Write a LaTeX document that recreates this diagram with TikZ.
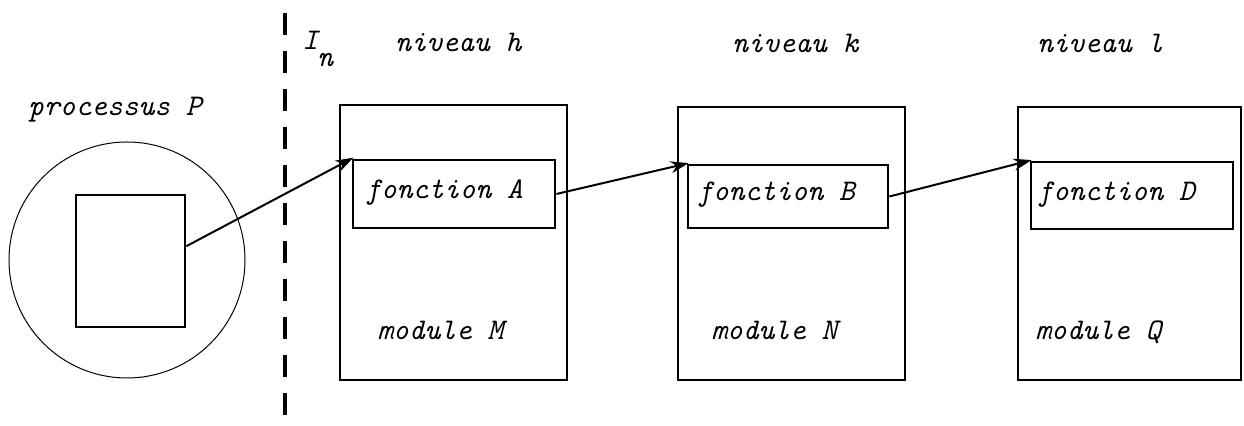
\documentclass[tikz,border=0pt]{standalone}
\usepackage{fontspec}
\usetikzlibrary{fit,arrows.meta,calc}
\tikzset{
  box/.style={draw, line width=1.4pt, inner sep=0pt},
  lbl/.style={inner sep=0pt, anchor=base west, font=\fontsize{15}{18}\selectfont\ttfamily\itshape},
  conn/.style={line width=1pt, -{Stealth[length=9pt,width=6pt]}, shorten >=-1pt}
}
\begin{document}
\begin{tikzpicture}[x=0.5pt,y=-0.5pt]
\useasboundingbox (0,0) rectangle (1244,426);
% process
\node[draw, circle, line width=0.5pt, minimum size=118pt, inner sep=0pt] (circ) at (127,260) {};
\node[box, fit={(76,195) (185,327)}] (P) {};
\node[lbl] (lp) at (28,116) {processus P};
% dashed interface
\coordinate (dtop) at (285,13);
\coordinate (dbot) at (285,423);
\draw[line width=2pt, dash pattern=on 11pt off 8pt] (dtop) -- (dbot);
\node[lbl] (lI) at (302,50) {I};
\node[lbl] (ln) at (317,67) {n};
% modules
\node[box, fit={(340,105) (567,380)}] (M) {};
\node[box, fit={(353,160) (555,228)}] (fA) {};
\node[box, fit={(678,107) (905,380)}] (N) {};
\node[box, fit={(688,165) (888,228)}] (fB) {};
\node[box, fit={(1018,107) (1241,380)}] (Q) {};
\node[box, fit={(1031,162) (1233,229)}] (fD) {};
% labels
\node[lbl] (nh) at (395,52) {niveau h};
\node[lbl] (nk) at (732,53) {niveau k};
\node[lbl] (nl) at (1037,53) {niveau l};
\node[lbl] (tA) at (365,199) {fonction A};
\node[lbl] (tB) at (697,201) {fonction B};
\node[lbl] (tD) at (1037,201) {fonction D};
\node[lbl] (mM) at (377,340) {module M};
\node[lbl] (mN) at (711,340) {module N};
\node[lbl] (mQ) at (1035,340) {module Q};
% connectors
\draw[conn] ($(P.north east)!0.39!(P.south east)$) -- (fA.north west);
\draw[conn] (fA.east) -- (fB.north west);
\draw[conn] (fB.east) -- (fD.north west);
\end{tikzpicture}
\end{document}
